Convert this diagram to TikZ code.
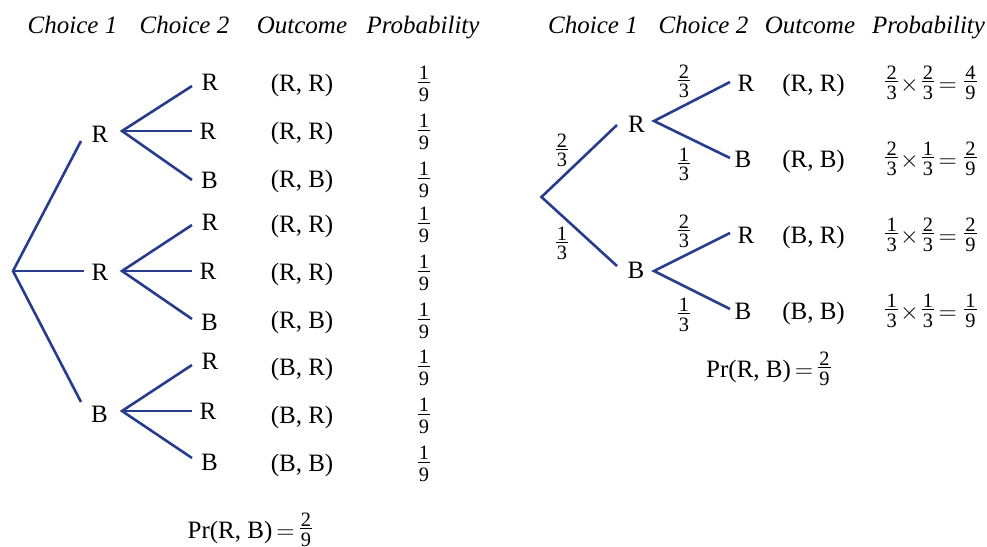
\documentclass[tikz,border=0pt]{standalone}
\usepackage{fontspec}
\setmainfont{Liberation Serif}
\definecolor{treeblue}{RGB}{40,60,140}
\tikzset{
  br/.style={draw=treeblue, line width=1.3pt},
  lab/.style={inner sep=0pt, anchor=base, font=\fontsize{12.5}{15}\selectfont},
  hd/.style={inner sep=0pt, anchor=base, font=\fontsize{12.5}{15}\selectfont\itshape},
  fr/.style={inner sep=0pt, anchor=center, font=\fontsize{12.5}{15}\selectfont},
}
\newcommand\mkfr[5]{{%
  \setbox0=\hbox{\fontsize{10.2}{12}\selectfont #1}%
  \setbox2=\hbox{\fontsize{10.2}{12}\selectfont #2}%
  \dimen0=\wd0 \ifdim\wd2>\dimen0 \dimen0=\wd2 \fi
  \advance\dimen0 by 1.2pt
  \hbox{\hbox to \dimen0{\hss\raise#3\box0\hss}\kern-\dimen0
        \hbox to \dimen0{\hss\raise#4\box2\hss}\kern-\dimen0
        \raise#5\hbox{\vrule width\dimen0 height 0.5pt depth 0pt}}}}
\newcommand\lfr[2]{\mkfr{#1}{#2}{6pt}{-5pt}{4.1pt}}
\newcommand\rfr[2]{\mkfr{#1}{#2}{5.6pt}{-4.2pt}{4.3pt}}
\newcommand\probprod[3]{\rfr{#1}{3}\kern1pt$\times$\kern1.5pt\rfr{#2}{3}\kern2.2pt$=$\kern3.6pt\rfr{#3}{9}}
\begin{document}
\begin{tikzpicture}[x=0.5pt,y=-0.5pt]
\useasboundingbox (0,0) rectangle (987,547);
% ---------------- Left tree ----------------
\node[hd] (lh1) at (72.5,33) {Choice 1};
\node[hd] (lh2) at (184.5,33) {Choice 2};
\node[hd] (lh3) at (302,33) {Outcome};
\node[hd] (lh4) at (423,33) {Probability};

\coordinate (Lroot) at (13,271);
\coordinate (La) at (81,141);
\coordinate (Lb) at (84,271);
\coordinate (Lc) at (81,402);
\coordinate (Fa) at (122,131);
\coordinate (Fb) at (122,271);
\coordinate (Fc) at (122,411);
\coordinate (Ea1) at (192,86);  \coordinate (Ea2) at (192,131); \coordinate (Ea3) at (192,180);
\coordinate (Eb1) at (192,225); \coordinate (Eb2) at (192,271); \coordinate (Eb3) at (192,319);
\coordinate (Ec1) at (192,365); \coordinate (Ec2) at (192,411); \coordinate (Ec3) at (192,458);

\draw[br] (La) -- (Lroot) -- (Lc);
\draw[br] (Lroot) -- (Lb);
\draw[br] (Ea1) -- (Fa) -- (Ea3); \draw[br] (Fa) -- (Ea2);
\draw[br] (Eb1) -- (Fb) -- (Eb3); \draw[br] (Fb) -- (Eb2);
\draw[br] (Ec1) -- (Fc) -- (Ec3); \draw[br] (Fc) -- (Ec2);

\node[lab] (n1) at (100,142) {R};
\node[lab] (n2) at (100,280) {R};
\node[lab] (n3) at (99.5,422) {B};

\node[lab] (m1) at (210,90) {R};
\node[lab] (m2) at (208,139) {R};
\node[lab] (m3) at (209.5,188) {B};
\node[lab] (m4) at (210,230) {R};
\node[lab] (m5) at (208,279) {R};
\node[lab] (m6) at (209.5,330) {B};
\node[lab] (m7) at (210,369) {R};
\node[lab] (m8) at (208,419) {R};
\node[lab] (m9) at (209.5,470) {B};

\foreach \y/\t [count=\i] in {91/{(R, R)},139/{(R, R)},187/{(R, B)},232/{(R, R)},280/{(R, R)},328/{(R, B)},375/{(B, R)},423/{(B, R)},471/{(B, B)}}{
  \node[lab] (o\i) at (302,\y) {\t};
  \node[lab] (p\i) at (424,\y) {\lfr{1}{9}};
}
\node[lab] (lpr) at (250,538) {Pr(R, B)\kern2pt$=$\kern2.5pt\rfr{2}{9}};

% ---------------- Right tree ----------------
\node[hd] (rh1) at (593,33) {Choice 1};
\node[hd] (rh2) at (703.5,33) {Choice 2};
\node[hd] (rh3) at (810,33) {Outcome};
\node[hd] (rh4) at (928.5,33) {Probability};

\coordinate (Rroot) at (541.5,197);
\coordinate (Ra) at (617,125);
\coordinate (Rb) at (617,266);
\coordinate (Ga) at (654,121);
\coordinate (Gb) at (654,271);
\coordinate (Ha1) at (730,82);  \coordinate (Ha2) at (730,158);
\coordinate (Hb1) at (730,233); \coordinate (Hb2) at (730,309);

\draw[br] (Ra) -- (Rroot) -- (Rb);
\draw[br] (Ha1) -- (Ga) -- (Ha2);
\draw[br] (Hb1) -- (Gb) -- (Hb2);

\node[lab] (r1) at (636.5,132) {R};
\node[lab] (r2) at (636,278) {B};

\node[fr] (q1) at (562,150.5) {\rfr{2}{3}};
\node[fr] (q2) at (562,243.5) {\rfr{1}{3}};
\node[fr] (q3) at (684,81.5) {\rfr{2}{3}};
\node[fr] (q4) at (684,164.5) {\rfr{1}{3}};
\node[fr] (q5) at (684,231.5) {\rfr{2}{3}};
\node[fr] (q6) at (684,315) {\rfr{1}{3}};

\node[lab] (s1) at (746,91) {R};
\node[lab] (s2) at (743,167) {B};
\node[lab] (s3) at (746,243) {R};
\node[lab] (s4) at (743,319) {B};

\node[lab] (t1) at (813.5,91) {(R, R)};
\node[lab] (t2) at (813.5,167) {(R, B)};
\node[lab] (t3) at (813.5,243) {(B, R)};
\node[lab] (t4) at (813.5,319) {(B, B)};

\node[lab,anchor=base west] (u1) at (885,91) {\probprod{2}{2}{4}};
\node[lab,anchor=base west] (u2) at (885,167) {\probprod{2}{1}{2}};
\node[lab,anchor=base west] (u3) at (885,243) {\probprod{1}{2}{2}};
\node[lab,anchor=base west] (u4) at (885,319) {\probprod{1}{1}{1}};

\node[lab] (rpr) at (768.5,377) {Pr(R, B)\kern2pt$=$\kern2.5pt\rfr{2}{9}};
\end{tikzpicture}
\end{document}
